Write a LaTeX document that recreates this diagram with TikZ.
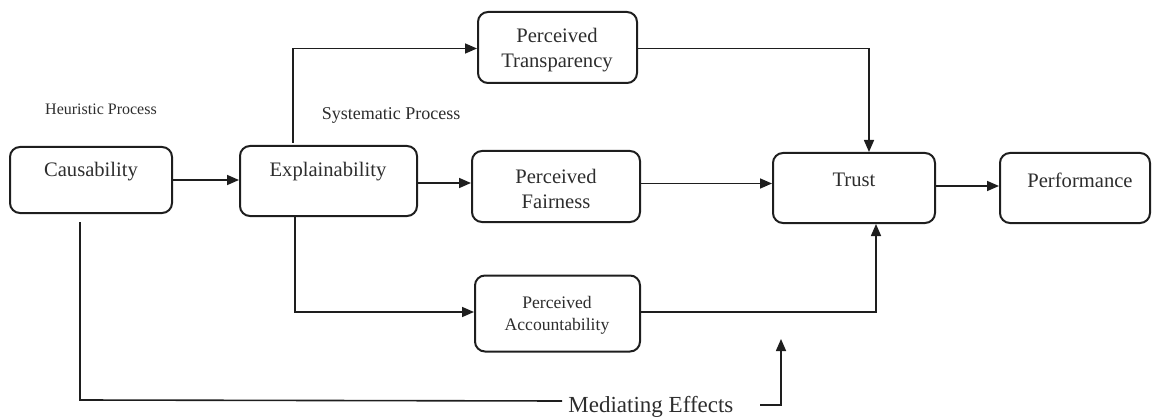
\documentclass[tikz,border=0pt]{standalone}
\usepackage{fontspec}
\setmainfont{Liberation Serif}
\usetikzlibrary{arrows.meta}
\definecolor{txt}{RGB}{45,45,45}
\definecolor{ln}{RGB}{30,30,30}
\begin{document}
\begin{tikzpicture}[x=0.5pt,y=-0.5pt,
  box/.style={draw=ln,line width=1pt,rounded corners=5pt,inner sep=0pt},
  lbl/.style={text=txt,inner sep=0pt,align=center,font=\fontsize{10.3}{12.5}\selectfont},
  conn/.style={draw=ln,line width=0.8pt},
  arr/.style={conn,-{Triangle[length=6pt,width=5pt]}}]
\useasboundingbox (0,0) rectangle (1152,417);
% boxes
\node[box,minimum width=81pt,minimum height=33pt] (caus) at (91,180) {};
\node[box,minimum width=88.5pt,minimum height=35pt] (expl) at (328.5,181) {};
\node[box,minimum width=79.5pt,minimum height=35.5pt] (trans) at (557.5,47.5) {};
\node[box,minimum width=84pt,minimum height=35.5pt] (fair) at (556,186.5) {};
\node[box,minimum width=82.5pt,minimum height=38pt] (acc) at (557.5,313.5) {};
\node[box,minimum width=81pt,minimum height=35pt] (trust) at (854,188) {};
\node[box,minimum width=75pt,minimum height=35pt] (perf) at (1075,188) {};
% texts
\node[lbl] (causT) at (91,172) {Causability};
\node[lbl] (explT) at (328,172) {Explainability};
\node[lbl] (transT) at (557,50) {Perceived\\Transparency};
\node[lbl] (fairT) at (556,189) {Perceived\\Fairness};
\node[lbl,font=\fontsize{8.8}{11}\selectfont] (accT) at (557,315) {Perceived\\Accountability};
\node[lbl] (trustT) at (854,180) {Trust};
\node[lbl] (perfT) at (1080,180) {Performance};
\node[lbl,font=\fontsize{8}{10}\selectfont] (heur) at (101,109) {Heuristic Process};
\node[lbl,font=\fontsize{9}{11}\selectfont] (syst) at (391,115) {Systematic Process};
\node[lbl,font=\fontsize{11.5}{13}\selectfont,anchor=west] (med) at (568,407) {Mediating Effects};
% helper coordinates
\coordinate (eUp) at (293,143);
\coordinate (eDn) at (295,216);
\coordinate (cDn) at (80,222);
\coordinate (cCorner) at (80,400);
\coordinate (cEnd) at (562,401);
\coordinate (mEnd) at (760,405);
\coordinate (mCorner) at (781,405);
\coordinate (mTip) at (781,339);
% connectors
\draw[arr] (caus.east) -- (caus.east -| expl.west);
\draw[arr] ([yshift=-1pt]expl.east) -- ([yshift=-1pt]expl.east -| fair.west);
\draw[arr] (eUp) |- ([yshift=-0.5pt]trans.west);
\draw[arr] ([yshift=-0.5pt]trans.east) -| ([xshift=7.5pt]trust.north);
\draw[arr] ([yshift=1.5pt]fair.east) -- ([yshift=1.5pt]fair.east -| trust.west);
\draw[arr] ([yshift=1pt]trust.east) -- ([yshift=1pt]trust.east -| perf.west);
\draw[arr] (eDn) |- ([yshift=0.75pt]acc.west);
\draw[arr] ([yshift=0.75pt]acc.east) -| ([xshift=11pt]trust.south);
\draw[conn] (cDn) -- (cCorner) -- (cEnd);
\draw[arr] (mEnd) -- (mCorner) -- (mTip);
\end{tikzpicture}
\end{document}
